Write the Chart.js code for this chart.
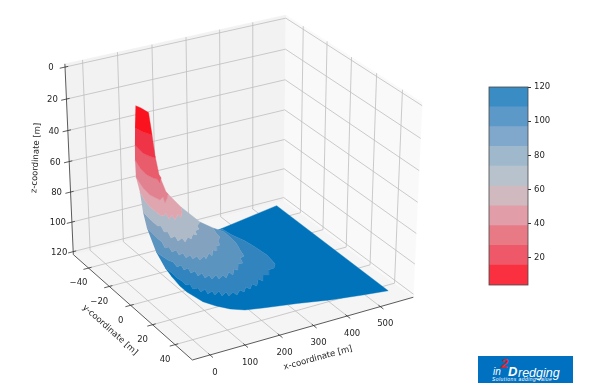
<!DOCTYPE html>
<html>
<head>
<meta charset="utf-8">
<style>
body { margin: 0; background: #fff; }
#wrap { position: relative; width: 600px; height: 392px; overflow: hidden; }
canvas { display: block; position: absolute; }
#logo { position: absolute; left: 478px; top: 356px; width: 95px; height: 27px; background: rgb(0,112,192); color: #fff; font-family: "Liberation Sans"; font-style: italic; }
#logo span { position: absolute; white-space: nowrap; line-height: 1; }
</style>
</head>
<body>
<div id="wrap">
  <canvas id="surface" width="600" height="392" style="left:0;top:0"></canvas>
  <canvas id="colorbar" width="100" height="218" style="left:480px;top:77px"></canvas>
  <div id="logo">
    <span style="left:15px;top:11px;font-size:10px">in</span>
    <span style="left:23px;top:1px;font-size:13px;font-weight:bold;color:#e8202a">2</span>
    <span style="left:30px;top:9px;font-size:13px;font-weight:bold">D</span>
    <span style="left:40px;top:11px;font-size:12.5px">redging</span>
    <span style="left:14px;top:21px;font-size:5px;letter-spacing:.45px">Solutions adding value</span>
  </div>
</div>
<script src="https://cdn.jsdelivr.net/npm/chart.js@4"></script>
<script>
// axis limits and ticks
const xLim = [-50, 601];
const yLim = [-55, 55];
const zLim = [122, -2];
const xTicks = [0, 100, 200, 300, 400, 500];
const yTicks = [-40, -20, 0, 20, 40];
const zTicks = [0, 20, 40, 60, 80, 100, 120];
const barTicks = [20, 40, 60, 80, 100, 120];
const barLevels = [4.2, 15.8, 27.4, 38.9, 50.5, 62.1, 73.7, 85.3, 96.8, 108.4, 120];

// depth levels of the contours, then x and y of every contour [m]
const levels = [5.1, 16.7, 28.2, 39.6, 51.1, 62.6, 74.1, 85.6, 97.0, 108.5, 120];
const contourX = [
  [16, 21, 24],
  [4, 10, 21],
  [7, 2, 7, 14, 20],
  [15, 3, 0, 5, 11, 6, 22, 26],
  [19, 5, 1, 6, 9, 24, 12, 30, 43, 44],
  [35, 22, 17, 17, 17, 23, 35, 26, 43, 36, 59, 54, 73, 84],
  [35, 32, 30, 30, 37, 28, 36, 27, 41, 34, 51, 47, 66, 68, 85, 91, 98, 112, 116, 133],
  [47, 45, 43, 43, 34, 45, 39, 53, 46, 60, 53, 70, 66, 82, 78, 98, 94, 117, 115, 133, 139, 151, 162, 169, 184, 187, 194],
  [49, 51, 54, 60, 56, 70, 63, 77, 70, 84, 78, 94, 88, 105, 100, 120, 116, 135, 134, 156, 157, 175, 181, 198, 211, 219, 233, 241, 252, 255, 256, 250],
  [72, 74, 72, 75, 73, 85, 78, 92, 88, 105, 98, 115, 111, 130, 124, 143, 139, 158, 159, 179, 183, 200, 204, 222, 227, 249, 254, 271, 284, 296, 315, 329, 336, 332, 327, 314, 309],
  [109, 107, 102, 102, 107, 112, 130, 153, 183, 228, 272, 316, 399, 486, 555, 558, 346]
];
const contourY = [
  [-11.9, -8.7, -3.0],
  [-9.0, -3.8, 0.7],
  [-10.5, -1.8, 2.0, 5.0, 3.3],
  [-13.4, -4.3, 2.1, 5.9, 7.5, 11.5, 7.5, 4.6],
  [-14.3, -3.4, 4.0, 7.8, 10.3, 8.4, 13.8, 10.1, 6.9, 4.8],
  [-16.2, -7.4, -1.3, 3.1, 7.5, 9.2, 7.1, 12.7, 10.1, 14.8, 10.5, 14.4, 9.7, 5.3],
  [-13.8, -8.5, -3.2, 1.2, 1.9, 7.5, 8.3, 13.9, 13.1, 17.8, 16.2, 20.1, 16.6, 18.9, 15.2, 16.9, 13.2, 12.4, 9.5, 6.9],
  [-14.4, -9.1, -3.9, 0.5, 6.1, 6.1, 10.8, 10.1, 14.8, 14.0, 18.7, 17.1, 20.9, 19.4, 23.2, 20.9, 23.7, 19.5, 22.6, 18.0, 19.6, 15.4, 15.4, 11.7, 8.9, 4.7, -0.1],
  [-7.0, -2.4, 2.2, 4.9, 9.8, 9.0, 13.7, 13.0, 17.6, 16.9, 21.5, 20.0, 24.6, 23.0, 26.8, 24.5, 28.3, 26.0, 29.0, 24.9, 28.1, 23.6, 25.3, 20.5, 20.7, 16.1, 15.3, 9.6, 2.9, -3.4, -8.9, -11.7],
  [-6.3, -0.7, 4.5, 8.0, 12.1, 12.1, 16.7, 17.0, 20.8, 19.3, 23.9, 22.4, 26.2, 23.9, 28.5, 26.2, 30.0, 27.7, 30.9, 27.6, 30.0, 26.5, 29.0, 25.5, 28.1, 22.8, 25.5, 20.7, 22.0, 17.8, 17.5, 14.5, 5.4, -3.9, -11.2, -19.1, -26.5],
  [-12.6, -9.4, -2.4, 3.9, 9.5, 15.2, 21.4, 26.7, 30.7, 33.0, 35.0, 36.9, 41.3, 44.6, 46.8, -49.3, -41.2]
];
const bandColors = ['rgb(250,18,30)', 'rgb(240,52,72)', 'rgb(233,92,108)', 'rgb(226,130,144)', 'rgb(224,166,176)',
  'rgb(174,186,200)', 'rgb(130,162,192)', 'rgb(92,148,192)', 'rgb(50,132,190)', 'rgb(0,115,187)'];
const barColors = ['rgb(250,48,64)', 'rgb(238,88,104)', 'rgb(232,122,134)', 'rgb(226,158,168)', 'rgb(208,186,192)',
  'rgb(184,194,204)', 'rgb(160,184,204)', 'rgb(128,168,204)', 'rgb(92,152,200)', 'rgb(58,140,196)'];

// view of the 3d box: elevation 30, seen from the low x / low y side
const DIST = 10;
const camN = [-0.4330127, -0.75, 0.5];
const camU = [0.8660254, -0.5, 0];
const camV = [0.25, 0.4330127, 0.8660254];

function dot(a, b) {
    return a[0] * b[0] + a[1] * b[1] + a[2] * b[2];
}

function project(x, y, z) {
    const p = [
        (x - xLim[0]) / (xLim[1] - xLim[0]) - 0.5,
        (yLim[1] - y) / (yLim[1] - yLim[0]) - 0.5,
        (zLim[0] - z) / (zLim[0] - zLim[1]) - 0.5
    ];
    const d = DIST - dot(camN, p);
    return { x: 240.7 + 2550.6 * dot(camU, p) / d, y: 181.6 - 2224.5 * dot(camV, p) / d };
}

const datasets = [];

function addPoly(points, color) {
    datasets.push({
        data: points, showLine: true, fill: 'shape', backgroundColor: color,
        borderColor: color, borderWidth: 0.4, pointRadius: 0, tension: 0
    });
}

function addLine(points, color, width) {
    datasets.push({
        data: points, showLine: true, fill: false,
        borderColor: color, borderWidth: width, pointRadius: 0, tension: 0
    });
}

const [x0, x1] = xLim, [yFront, yBack] = [yLim[1], yLim[0]], [zLow, zTop] = zLim;

// panes
addPoly([project(x0, yBack, zLow), project(x1, yBack, zLow), project(x1, yFront, zLow), project(x0, yFront, zLow)], 'rgb(245,245,245)');
addPoly([project(x0, yBack, zLow), project(x1, yBack, zLow), project(x1, yBack, zTop), project(x0, yBack, zTop)], 'rgb(242,242,242)');
addPoly([project(x1, yBack, zLow), project(x1, yFront, zLow), project(x1, yFront, zTop), project(x1, yBack, zTop)], 'rgb(249,249,249)');

// grid lines
const GRID = 'rgb(190,190,190)';
xTicks.forEach(t => {
    addLine([project(t, yFront, zLow), project(t, yBack, zLow), project(t, yBack, zTop)], GRID, 0.8);
});
yTicks.forEach(t => {
    addLine([project(x0, t, zLow), project(x1, t, zLow), project(x1, t, zTop)], GRID, 0.8);
});
zTicks.forEach(t => {
    addLine([project(x0, yBack, t), project(x1, yBack, t), project(x1, yFront, t)], GRID, 0.8);
});

// axis lines and tick marks
const AXIS = 'rgb(50,50,50)';
addLine([project(x0, yFront, zLow), project(x1, yFront, zLow)], AXIS, 0.8);
addLine([project(x0, yBack, zLow), project(x0, yFront, zLow)], AXIS, 0.8);
addLine([project(x0, yBack, zTop), project(x0, yBack, zLow)], AXIS, 0.8);
xTicks.forEach(t => addLine([project(t, yFront - 1.5, zLow), project(t, yFront + 2.5, zLow)], AXIS, 0.8));
yTicks.forEach(t => addLine([project(x0 + 9, t, zLow), project(x0 - 15, t, zLow)], AXIS, 0.8));
zTicks.forEach(t => addLine([project(x0 + 9, yBack, t), project(x0 - 15, yBack, t)], AXIS, 0.8));

// surface bands, lowest first so the upper ones lie on top
for (let i = levels.length - 2; i >= 0; i--) {
    const upper = contourX[i].map((x, k) => project(x, contourY[i][k], levels[i]));
    const lower = contourX[i + 1].map((x, k) => project(x, contourY[i + 1][k], levels[i + 1]));
    addPoly(upper.concat(lower.reverse()), bandColors[i]);
}

// chart.js paints the first dataset last
datasets.reverse();

const tickLabels = [
    ...xTicks.map(t => { const p = project(t, yFront, zLow); return { text: String(t), x: p.x + 5, y: p.y + 17.5 }; }),
    ...yTicks.map(t => { const p = project(x0, t, zLow); return { text: String(t).replace('-', '\u2212'), x: p.x - 10, y: p.y + 15 }; }),
    ...zTicks.map(t => { const p = project(x0, yBack, t); return { text: String(t), x: p.x - 14, y: p.y + 1 }; })
];
const axisTitles = [
    { text: 'x-coordinate [m]', x: 318, y: 358, angle: -15.5 },
    { text: 'y-coordinate [m]', x: 110, y: 330, angle: 42 },
    { text: 'z-coordinate [m]', x: 36, y: 158, angle: -87 }
];

const labelPlugin = {
    id: 'labels',
    afterDraw(chart) {
        const { ctx, scales } = chart;
        ctx.save();
        ctx.fillStyle = 'rgb(38,38,38)';
        ctx.font = '8.5px "DejaVu Sans"';
        ctx.textAlign = 'center';
        ctx.textBaseline = 'middle';
        tickLabels.forEach(l => {
            ctx.fillText(l.text, scales.x.getPixelForValue(l.x), scales.y.getPixelForValue(l.y));
        });
        axisTitles.forEach(l => {
            ctx.save();
            ctx.translate(scales.x.getPixelForValue(l.x), scales.y.getPixelForValue(l.y));
            ctx.rotate(l.angle * Math.PI / 180);
            ctx.fillText(l.text, 0, 0);
            ctx.restore();
        });
        ctx.restore();
    }
};

new Chart(document.getElementById('surface'), {
    type: 'scatter',
    data: { datasets },
    plugins: [labelPlugin],
    options: {
        responsive: false,
        animation: false,
        layout: { padding: 0 },
        plugins: { legend: { display: false }, tooltip: { enabled: false } },
        scales: {
            x: { type: 'linear', display: false, min: 0, max: 600 },
            y: { type: 'linear', display: false, min: 0, max: 392, reverse: true }
        }
    }
});

// colour bar
const barFrame = {
    id: 'barFrame',
    afterDraw(chart) {
        const { ctx, chartArea: a } = chart;
        ctx.save();
        ctx.strokeStyle = 'rgb(70,70,70)';
        ctx.lineWidth = 0.8;
        ctx.strokeRect(a.left, a.top, a.right - a.left, a.bottom - a.top);
        ctx.restore();
    }
};

new Chart(document.getElementById('colorbar'), {
    type: 'bar',
    data: {
        labels: ['depth'],
        datasets: barColors.map((c, i) => ({
            data: [[barLevels[i], barLevels[i + 1]]],
            backgroundColor: c,
            barPercentage: 1,
            categoryPercentage: 1
        }))
    },
    plugins: [barFrame],
    options: {
        responsive: false,
        animation: false,
        layout: { padding: { left: 9, top: 10, bottom: 10, right: 0 } },
        plugins: { legend: { display: false }, tooltip: { enabled: false } },
        scales: {
            x: { display: false, stacked: true },
            y: {
                position: 'right',
                min: barLevels[0],
                max: 120,
                afterBuildTicks(axis) {
                    axis.ticks = barTicks.map(value => ({ value }));
                },
                afterFit(axis) {
                    axis.width = 52;
                },
                grid: { drawOnChartArea: false, tickLength: 3, color: 'rgb(50,50,50)', tickColor: 'rgb(50,50,50)' },
                border: { display: false },
                ticks: { autoSkip: false, padding: 3, color: 'rgb(38,38,38)', font: { family: 'DejaVu Sans', size: 8.5 } }
            }
        }
    }
});
</script>
</body>
</html>
